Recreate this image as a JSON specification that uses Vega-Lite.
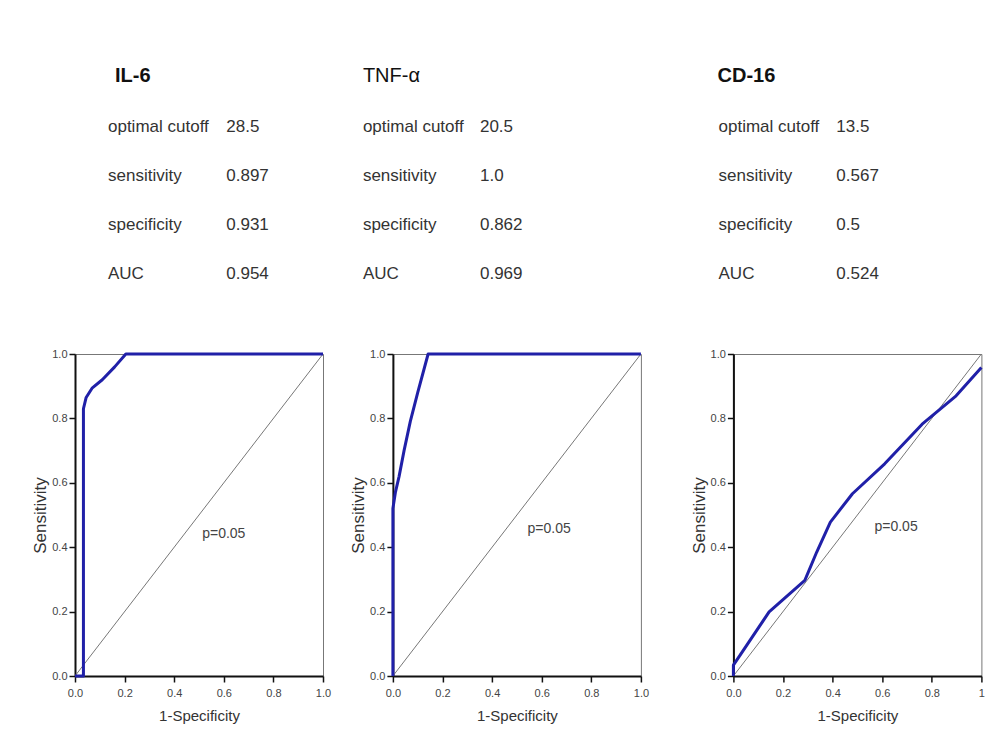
{
  "$schema": "https://vega.github.io/schema/vega-lite/v6.json",
  "background": "white",
  "padding": {"left": 31, "top": 66, "right": 1, "bottom": 2},
  "spacing": 39.4,
  "config": {
    "font": "Liberation Sans",
    "view": {"stroke": null},
    "axis": {
      "grid": false,
      "domainColor": "#111",
      "domainWidth": 2,
      "tickColor": "#111",
      "tickWidth": 1.5,
      "tickSize": 6,
      "labelFontSize": 11,
      "labelColor": "#444",
      "labelFlush": false,
      "labelOverlap": false,
      "titleFontSize": 15,
      "titleFontWeight": "normal",
      "titleColor": "#333"
    },
    "axisX": {"labelPadding": 5, "titlePadding": 10},
    "axisY": {"labelPadding": 2, "titlePadding": 2, "titleFontSize": 17},
    "title": {"anchor": "start", "fontSize": 20, "color": "#111", "offset": 16}
  },
  "datasets": {
    "stats": [
      {"panel": "IL-6", "stat": "optimal cutoff", "value": "28.5"},
      {"panel": "IL-6", "stat": "sensitivity", "value": "0.897"},
      {"panel": "IL-6", "stat": "specificity", "value": "0.931"},
      {"panel": "IL-6", "stat": "AUC", "value": "0.954"},
      {"panel": "TNF-α", "stat": "optimal cutoff", "value": "20.5"},
      {"panel": "TNF-α", "stat": "sensitivity", "value": "1.0"},
      {"panel": "TNF-α", "stat": "specificity", "value": "0.862"},
      {"panel": "TNF-α", "stat": "AUC", "value": "0.969"},
      {"panel": "CD-16", "stat": "optimal cutoff", "value": "13.5"},
      {"panel": "CD-16", "stat": "sensitivity", "value": "0.567"},
      {"panel": "CD-16", "stat": "specificity", "value": "0.5"},
      {"panel": "CD-16", "stat": "AUC", "value": "0.524"}
    ],
    "roc": [
      {"panel": "IL-6", "i": 0, "fpr": 0, "tpr": 0},
      {"panel": "IL-6", "i": 1, "fpr": 0.034, "tpr": 0},
      {"panel": "IL-6", "i": 2, "fpr": 0.034, "tpr": 0.83},
      {"panel": "IL-6", "i": 3, "fpr": 0.045, "tpr": 0.865},
      {"panel": "IL-6", "i": 4, "fpr": 0.07, "tpr": 0.895},
      {"panel": "IL-6", "i": 5, "fpr": 0.11, "tpr": 0.92},
      {"panel": "IL-6", "i": 6, "fpr": 0.16, "tpr": 0.96},
      {"panel": "IL-6", "i": 7, "fpr": 0.205, "tpr": 1},
      {"panel": "IL-6", "i": 8, "fpr": 1, "tpr": 1},
      {"panel": "TNF-α", "i": 0, "fpr": 0, "tpr": 0},
      {"panel": "TNF-α", "i": 1, "fpr": 0, "tpr": 0.52},
      {"panel": "TNF-α", "i": 2, "fpr": 0.01, "tpr": 0.57},
      {"panel": "TNF-α", "i": 3, "fpr": 0.025, "tpr": 0.62},
      {"panel": "TNF-α", "i": 4, "fpr": 0.045, "tpr": 0.7},
      {"panel": "TNF-α", "i": 5, "fpr": 0.07, "tpr": 0.79},
      {"panel": "TNF-α", "i": 6, "fpr": 0.1, "tpr": 0.88},
      {"panel": "TNF-α", "i": 7, "fpr": 0.142, "tpr": 1},
      {"panel": "TNF-α", "i": 8, "fpr": 1, "tpr": 1},
      {"panel": "CD-16", "i": 0, "fpr": 0, "tpr": 0},
      {"panel": "CD-16", "i": 1, "fpr": 0, "tpr": 0.034},
      {"panel": "CD-16", "i": 2, "fpr": 0.144, "tpr": 0.199},
      {"panel": "CD-16", "i": 3, "fpr": 0.288, "tpr": 0.297},
      {"panel": "CD-16", "i": 4, "fpr": 0.336, "tpr": 0.385},
      {"panel": "CD-16", "i": 5, "fpr": 0.391, "tpr": 0.478},
      {"panel": "CD-16", "i": 6, "fpr": 0.48, "tpr": 0.566},
      {"panel": "CD-16", "i": 7, "fpr": 0.61, "tpr": 0.659},
      {"panel": "CD-16", "i": 8, "fpr": 0.761, "tpr": 0.782},
      {"panel": "CD-16", "i": 9, "fpr": 0.898, "tpr": 0.87},
      {"panel": "CD-16", "i": 10, "fpr": 1, "tpr": 0.958}
    ],
    "chance": [
      {"fpr": 0, "tpr": 0, "label": "p=0.05"},
      {"fpr": 1, "tpr": 1, "label": "p=0.05"}
    ]
  },
  "hconcat": [
    {
      "spacing": 16.9,
      "hconcat": [
        {
          "spacing": 49,
          "vconcat": [
            {
              "width": 248,
              "height": 196,
              "title": {"text": "IL-6", "dx": 40, "fontWeight": "bold"},
              "data": {"name": "stats"},
              "transform": [{"filter": "datum.panel === 'IL-6'"}],
              "layer": [
                {
                  "mark": {"type": "text", "align": "left", "baseline": "middle", "fontSize": 17, "color": "#333"},
                  "encoding": {
                    "x": {"datum": 0.133, "type": "quantitative", "scale": {"domain": [0, 1]}, "axis": null},
                    "y": {"field": "stat", "type": "nominal", "sort": ["optimal cutoff", "sensitivity", "specificity", "AUC"], "scale": {"type": "point", "padding": 0.5}, "axis": null},
                    "text": {"field": "stat"}
                  }
                },
                {
                  "mark": {"type": "text", "align": "left", "baseline": "middle", "fontSize": 17, "color": "#333"},
                  "encoding": {
                    "x": {"datum": 0.61, "type": "quantitative"},
                    "y": {"field": "stat", "type": "nominal", "sort": ["optimal cutoff", "sensitivity", "specificity", "AUC"]},
                    "text": {"field": "value"}
                  }
                }
              ]
            },
            {
              "width": 248,
              "height": 322,
              "view": {"stroke": "#777", "strokeWidth": 1},
              "layer": [
                {
                  "data": {"name": "chance"},
                  "mark": {"type": "line", "color": "#777", "strokeWidth": 1},
                  "encoding": {
                    "x": {"field": "fpr", "type": "quantitative", "scale": {"domain": [0, 1], "nice": false}, "axis": {"values": [0, 0.2, 0.4, 0.6, 0.8, 1], "format": ".1f", "title": "1-Specificity"}},
                    "y": {"field": "tpr", "type": "quantitative", "scale": {"domain": [0, 1], "nice": false}, "axis": {"values": [0, 0.2, 0.4, 0.6, 0.8, 1], "format": ".1f", "title": "Sensitivity"}}
                  }
                },
                {
                  "data": {"name": "roc"},
                  "transform": [{"filter": "datum.panel === 'IL-6'"}],
                  "mark": {"type": "line", "color": "#2020a8", "strokeWidth": 3, "strokeJoin": "round"},
                  "encoding": {
                    "x": {"field": "fpr", "type": "quantitative"},
                    "y": {"field": "tpr", "type": "quantitative"},
                    "order": {"field": "i", "type": "quantitative"}
                  }
                },
                {
                  "data": {"name": "chance"},
                  "transform": [{"filter": "datum.fpr === 0"}],
                  "mark": {"type": "text", "fontSize": 14, "color": "#444"},
                  "encoding": {
                    "x": {"datum": 0.6, "type": "quantitative"},
                    "y": {"datum": 0.44, "type": "quantitative"},
                    "text": {"field": "label"}
                  }
                }
              ]
            }
          ]
        },
        {
          "spacing": 49,
          "vconcat": [
            {
              "width": 248,
              "height": 196,
              "title": {"text": "TNF-α", "dx": 0, "fontWeight": "normal"},
              "data": {"name": "stats"},
              "transform": [{"filter": "datum.panel === 'TNF-α'"}],
              "layer": [
                {
                  "mark": {"type": "text", "align": "left", "baseline": "middle", "fontSize": 17, "color": "#333"},
                  "encoding": {
                    "x": {"datum": -0.121, "type": "quantitative", "scale": {"domain": [0, 1]}, "axis": null},
                    "y": {"field": "stat", "type": "nominal", "sort": ["optimal cutoff", "sensitivity", "specificity", "AUC"], "scale": {"type": "point", "padding": 0.5}, "axis": null},
                    "text": {"field": "stat"}
                  }
                },
                {
                  "mark": {"type": "text", "align": "left", "baseline": "middle", "fontSize": 17, "color": "#333"},
                  "encoding": {
                    "x": {"datum": 0.351, "type": "quantitative"},
                    "y": {"field": "stat", "type": "nominal", "sort": ["optimal cutoff", "sensitivity", "specificity", "AUC"]},
                    "text": {"field": "value"}
                  }
                }
              ]
            },
            {
              "width": 248,
              "height": 322,
              "view": {"stroke": "#777", "strokeWidth": 1},
              "layer": [
                {
                  "data": {"name": "chance"},
                  "mark": {"type": "line", "color": "#777", "strokeWidth": 1},
                  "encoding": {
                    "x": {"field": "fpr", "type": "quantitative", "scale": {"domain": [0, 1], "nice": false}, "axis": {"values": [0, 0.2, 0.4, 0.6, 0.8, 1], "format": ".1f", "title": "1-Specificity"}},
                    "y": {"field": "tpr", "type": "quantitative", "scale": {"domain": [0, 1], "nice": false}, "axis": {"values": [0, 0.2, 0.4, 0.6, 0.8, 1], "format": ".1f", "title": "Sensitivity"}}
                  }
                },
                {
                  "data": {"name": "roc"},
                  "transform": [{"filter": "datum.panel === 'TNF-α'"}],
                  "mark": {"type": "line", "color": "#2020a8", "strokeWidth": 3, "strokeJoin": "round"},
                  "encoding": {
                    "x": {"field": "fpr", "type": "quantitative"},
                    "y": {"field": "tpr", "type": "quantitative"},
                    "order": {"field": "i", "type": "quantitative"}
                  }
                },
                {
                  "data": {"name": "chance"},
                  "transform": [{"filter": "datum.fpr === 0"}],
                  "mark": {"type": "text", "fontSize": 14, "color": "#444"},
                  "encoding": {
                    "x": {"datum": 0.63, "type": "quantitative"},
                    "y": {"datum": 0.457, "type": "quantitative"},
                    "text": {"field": "label"}
                  }
                }
              ]
            }
          ]
        }
      ]
    },
    {
      "spacing": 49,
      "vconcat": [
        {
          "width": 248,
          "height": 196,
          "title": {"text": "CD-16", "dx": -1, "fontWeight": "bold"},
          "data": {"name": "stats"},
          "transform": [{"filter": "datum.panel === 'CD-16'"}],
          "layer": [
            {
              "mark": {"type": "text", "align": "left", "baseline": "middle", "fontSize": 17, "color": "#333"},
              "encoding": {
                "x": {"datum": -0.06, "type": "quantitative", "scale": {"domain": [0, 1]}, "axis": null},
                "y": {"field": "stat", "type": "nominal", "sort": ["optimal cutoff", "sensitivity", "specificity", "AUC"], "scale": {"type": "point", "padding": 0.5}, "axis": null},
                "text": {"field": "stat"}
              }
            },
            {
              "mark": {"type": "text", "align": "left", "baseline": "middle", "fontSize": 17, "color": "#333"},
              "encoding": {
                "x": {"datum": 0.415, "type": "quantitative"},
                "y": {"field": "stat", "type": "nominal", "sort": ["optimal cutoff", "sensitivity", "specificity", "AUC"]},
                "text": {"field": "value"}
              }
            }
          ]
        },
        {
          "width": 248,
          "height": 322,
          "view": {"stroke": "#777", "strokeWidth": 1},
          "layer": [
            {
              "data": {"name": "chance"},
              "mark": {"type": "line", "color": "#777", "strokeWidth": 1},
              "encoding": {
                "x": {"field": "fpr", "type": "quantitative", "scale": {"domain": [0, 1], "nice": false}, "axis": {"values": [0, 0.2, 0.4, 0.6, 0.8, 1], "labelExpr": "datum.value === 1 ? '1' : format(datum.value, '.1f')", "title": "1-Specificity"}},
                "y": {"field": "tpr", "type": "quantitative", "scale": {"domain": [0, 1], "nice": false}, "axis": {"values": [0, 0.2, 0.4, 0.6, 0.8, 1], "format": ".1f", "title": "Sensitivity"}}
              }
            },
            {
              "data": {"name": "roc"},
              "transform": [{"filter": "datum.panel === 'CD-16'"}],
              "mark": {"type": "line", "color": "#2020a8", "strokeWidth": 3, "strokeJoin": "round"},
              "encoding": {
                "x": {"field": "fpr", "type": "quantitative"},
                "y": {"field": "tpr", "type": "quantitative"},
                "order": {"field": "i", "type": "quantitative"}
              }
            },
            {
              "data": {"name": "chance"},
              "transform": [{"filter": "datum.fpr === 0"}],
              "mark": {"type": "text", "fontSize": 14, "color": "#444"},
              "encoding": {
                "x": {"datum": 0.656, "type": "quantitative"},
                "y": {"datum": 0.462, "type": "quantitative"},
                "text": {"field": "label"}
              }
            }
          ]
        }
      ]
    }
  ]
}
